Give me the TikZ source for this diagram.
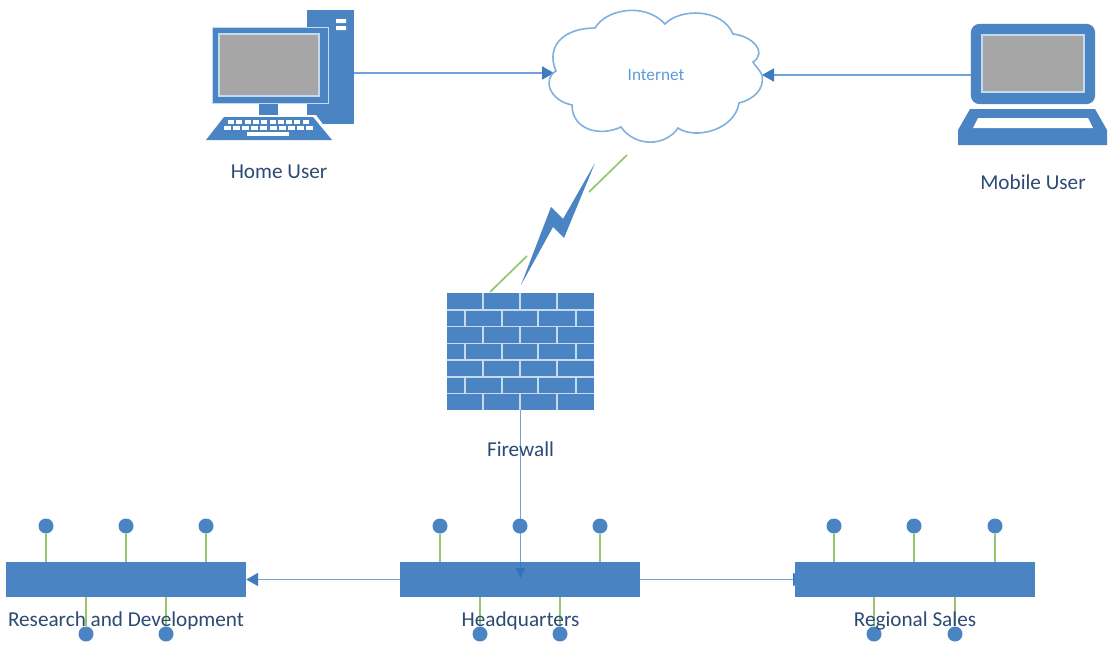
\documentclass[tikz,border=0pt]{standalone}
\usepackage{fontspec}
\setmainfont{Carlito}
\definecolor{bluefill}{HTML}{4A84C2}
\definecolor{hqfill}{HTML}{3676BB}
\definecolor{wireblue}{HTML}{6FA3D9}
\definecolor{tipblue}{HTML}{3F7CBF}
\definecolor{faintip}{HTML}{1F5FA8}
\definecolor{cloudline}{HTML}{7FB0DE}
\definecolor{gapblue}{HTML}{C5DAEF}
\definecolor{stemgreen}{HTML}{93C572}
\definecolor{labelnavy}{HTML}{2B4A75}
\definecolor{netblue}{HTML}{5F9BD8}
\definecolor{screengray}{HTML}{A6A6A6}
\usetikzlibrary{arrows.meta}
\tikzset{
  wire/.style={draw=wireblue,line width=1.8pt,-{Triangle[length=12pt,width=13pt,color=tipblue]}},
  stem/.style={draw=stemgreen,line width=1.7pt},
  solid box/.style={fill=bluefill,draw=none,inner sep=0pt,minimum height=35pt,minimum width=240pt},
  dot/.style={circle,fill=bluefill,draw=none,inner sep=0pt,minimum size=15pt},
  tag/.style={text=labelnavy,font=\fontsize{21.2}{23}\selectfont,inner sep=0pt},
  glyph/.style={fill=bluefill,draw=none},
  screen/.style={fill=screengray,draw=gapblue,line width=1.3pt},
  gap/.style={draw=gapblue,line width=1.5pt},
}
\begin{document}
\begin{tikzpicture}[x=1pt,y=-1pt]
\useasboundingbox (0,0) rectangle (1111,645);
\fill[white] (0,0) rectangle (1111,645);

% named anchors
\node[inner sep=0pt,minimum width=47pt,minimum height=114pt] (tower) at (330.5,67) {};
\node[inner sep=0pt,minimum width=124pt,minimum height=80pt] (lid) at (1033,64) {};
\node[inner sep=0pt,minimum width=147pt,minimum height=117pt] (wall) at (520.5,351.5) {};
\coordinate (cloudW) at (554,73);
\coordinate (cloudE) at (762,75);
\coordinate (hqtip) at (520.5,578);
\coordinate (rstip) at (805,579.5);

% connectors
\draw[wire] (tower.east |- 0,73) -- (cloudW);
\draw[wire] (lid.west |- 0,75) -- (cloudE);

% desktop computer
\fill[glyph] (tower.north west) rectangle (tower.south east);
\fill[white] (336,19) rectangle (346,23) (336,26) rectangle (346,30);
\fill[white] (256,103) rectangle (307,124);
\fill[glyph] (259,104) rectangle (278,116);
\draw[gapblue,line width=1pt,fill=bluefill] (212,27) rectangle (328,103);
\draw[screen] (219,34) rectangle (319,96);
\fill[white] (222,115) -- (316,115) -- (336,142) -- (204,142) -- cycle;
\fill[glyph] (224,117) -- (313,117) -- (332,140) -- (206,140) -- cycle;
\foreach \i in {0,...,9} {
  \fill[white] ({228+\i*8.3},120) rectangle +(6,3.6);
  \fill[white] ({223.5+\i*9.2},126) rectangle +(7,3.8);
}
\fill[white] (247,132) rectangle (289,136);

% cloud
\node[text=netblue,font=\fontsize{17.2}{19}\selectfont,inner sep=0pt] (internet) at (656,75.5) {Internet};
\draw[cloudline,line width=1.6pt]
  (595,28) .. controls (606,9) and (645,2) .. (665,24)
  .. controls (680,8) and (722,8) .. (733,34)
  .. controls (752,36) and (768,52) .. (753,62)
  .. controls (755,66) and (760,70) .. (762,75)
  .. controls (765,90) and (752,100) .. (739,103)
  .. controls (735,130) and (695,140) .. (678,128)
  .. controls (665,147) and (635,147) .. (621,127)
  .. controls (600,137) and (572,130) .. (572,105)
  .. controls (548,100) and (543,78) .. (556,71)
  .. controls (545,45) and (565,28) .. (595,28);

% laptop
\fill[glyph,rounded corners=9pt] (lid.south west) -- (lid.north west) -- (lid.north east) -- (lid.south east) -- cycle;
\draw[screen] (982,35) rectangle (1084,92);
\fill[glyph] (970,109) -- (1095,109) -- (1107,130) -- (1107,145) -- (958,145) -- (958,130) -- cycle;
\fill[white] (978,118) -- (1088,118) -- (1093,128) -- (973,128) -- cycle;

% lightning link
\draw[stem] (627,155) -- (589,192);
\draw[stem] (527,256) -- (490,292);
\fill[glyph] (595,163) -- (564,238) -- (553,227) -- (521,285) -- (551,207) -- (563,219) -- cycle;

% firewall
\fill[glyph] (wall.north west) rectangle (wall.south east);
\foreach \i in {1,...,6} \draw[gap] (447,{293+\i*16.75}) -- (594,{293+\i*16.75});
\foreach \r in {0,2,4,6} \foreach \x in {483,520,557}
  \draw[gap] (\x,{293+\r*16.75}) -- (\x,{293+(\r+1)*16.75});
\foreach \r in {1,3,5} \foreach \x in {465,502,538,576}
  \draw[gap] (\x,{293+\r*16.75}) -- (\x,{293+(\r+1)*16.75});

% connector from the firewall, seen faintly through the headquarters bar
\draw[draw=wireblue,line width=1.8pt,-{Triangle[length=10pt,width=9pt,color=faintip]}] (wall.south) -- (hqtip);

% bars
\node[solid box,fill=hqfill,fill opacity=.9] (hq) at (520,579.5) {};
\node[solid box] (rd) at (126,579.5) {};

% connectors between the bars
\draw[wire] (hq.west) -- (rd.east);
\draw[wire] (hq.east) -- (rstip);
\node[solid box] (rs) at (915,579.5) {};

% stations
\foreach \n/\x in {a/46,b/126,c/206,d/440,e/520,f/600,g/834,h/914,i/995} {
  \node[dot] (t\n) at (\x,526) {};
}
\foreach \n/\x in {j/86,k/166,l/480,m/560,n/874,o/955} {
  \node[dot] (u\n) at (\x,634) {};
}
\foreach \n/\b in {a/rd,b/rd,c/rd,d/hq,f/hq,g/rs,h/rs,i/rs}
  \draw[stem] (t\n) -- (t\n |- \b.north);
\foreach \n/\b in {j/rd,k/rd,l/hq,m/hq,n/rs,o/rs}
  \draw[stem] (\b.south -| u\n) -- (u\n);

% labels
\node[tag] (lhome) at (279,172) {Home User};
\node[tag] (lmobile) at (1033,182) {Mobile User};
\node[tag] (lwall) at (520.5,449) {Firewall};
\node[tag] (lrd) at (126,620.5) {Research and Development};
\node[tag] (lhq) at (520.5,620.5) {Headquarters};
\node[tag] (lrs) at (915,620.5) {Regional Sales};
\end{tikzpicture}
\end{document}
